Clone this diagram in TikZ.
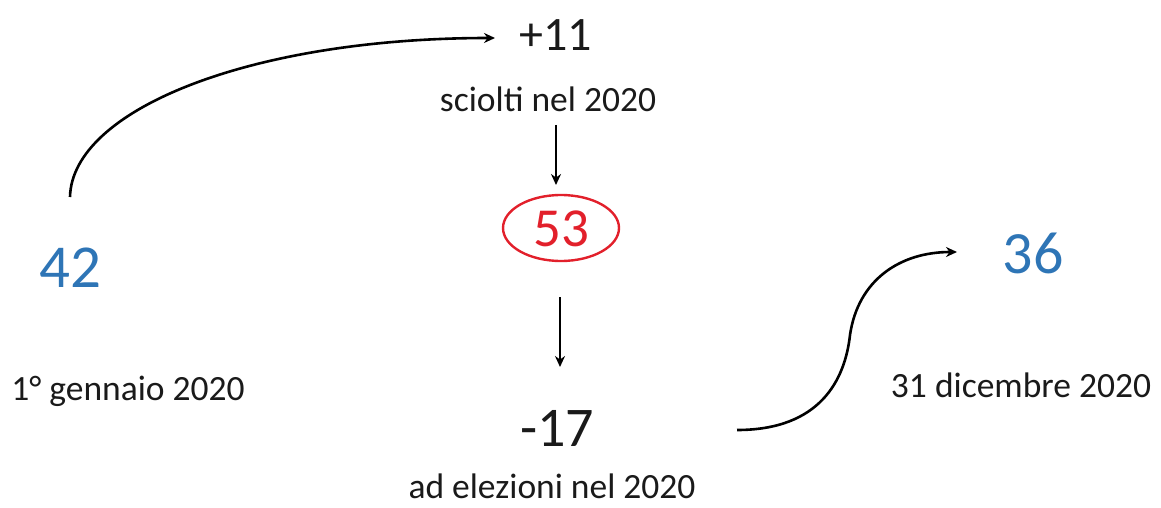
\documentclass[tikz,border=0pt]{standalone}
\usepackage{fontspec}
\setmainfont{Carlito}
\usetikzlibrary{arrows.meta,shapes.geometric}
\definecolor{numblue}{HTML}{2E75B6}
\definecolor{numred}{HTML}{E2202B}
\definecolor{txt}{HTML}{1A1A1A}
\tikzset{
  lab/.style={anchor=base,inner sep=0pt,text=txt,font=\fontsize{35.5}{40}\selectfont},
  num/.style={anchor=base,inner sep=0pt,text=txt},
  conn/.style={line width=2.6pt,-{Stealth[length=11pt,width=10pt]}}
}
\begin{document}
\begin{tikzpicture}[x=1pt,y=-1pt]
\useasboundingbox (0,0) rectangle (1161,508);
\node[num,font=\fontsize{48}{52}\selectfont] (p11) at (556,51) {+11};
\node[lab] (sc) at (548,112) {sciolti nel 2020};
\node[ellipse,draw=numred,line width=2.4pt,minimum width=116pt,minimum height=66pt,inner sep=0pt] (e53) at (561,228) {};
\node[num,text=numred,font=\fontsize{55}{60}\selectfont] (n53) at (561,246) {53};
\node[num,text=numblue,font=\fontsize{61}{66}\selectfont] (n42) at (70,287) {42};
\node[lab] (d1) at (128,400) {1° gennaio 2020};
\node[num,text=numblue,font=\fontsize{60}{66}\selectfont] (n36) at (1033,273) {36};
\node[lab] (d2) at (1021,397) {31 dicembre 2020};
\node[num,font=\fontsize{56}{60}\selectfont] (m17) at (557,446) {-17};
\node[lab] (el) at (552,498) {ad elezioni nel 2020};
\coordinate (c1s) at (70,197);
\coordinate (c1e) at (495,38);
\coordinate (c2s) at (737,430);
\coordinate (c2e) at (957,252);
\coordinate (a1s) at (556,125);
\coordinate (a1e) at (556,185);
\coordinate (a2s) at (560,297);
\coordinate (a2e) at (560,367);
\draw[conn] (c1s) .. controls (72,110) and (250,38) .. (c1e);
\draw[conn] (c2s) .. controls (820,430) and (845,380) .. (850,335) .. controls (858,280) and (900,252) .. (c2e);
\draw[conn] (a1s) -- (a1e);
\draw[conn] (a2s) -- (a2e);
\end{tikzpicture}
\end{document}
